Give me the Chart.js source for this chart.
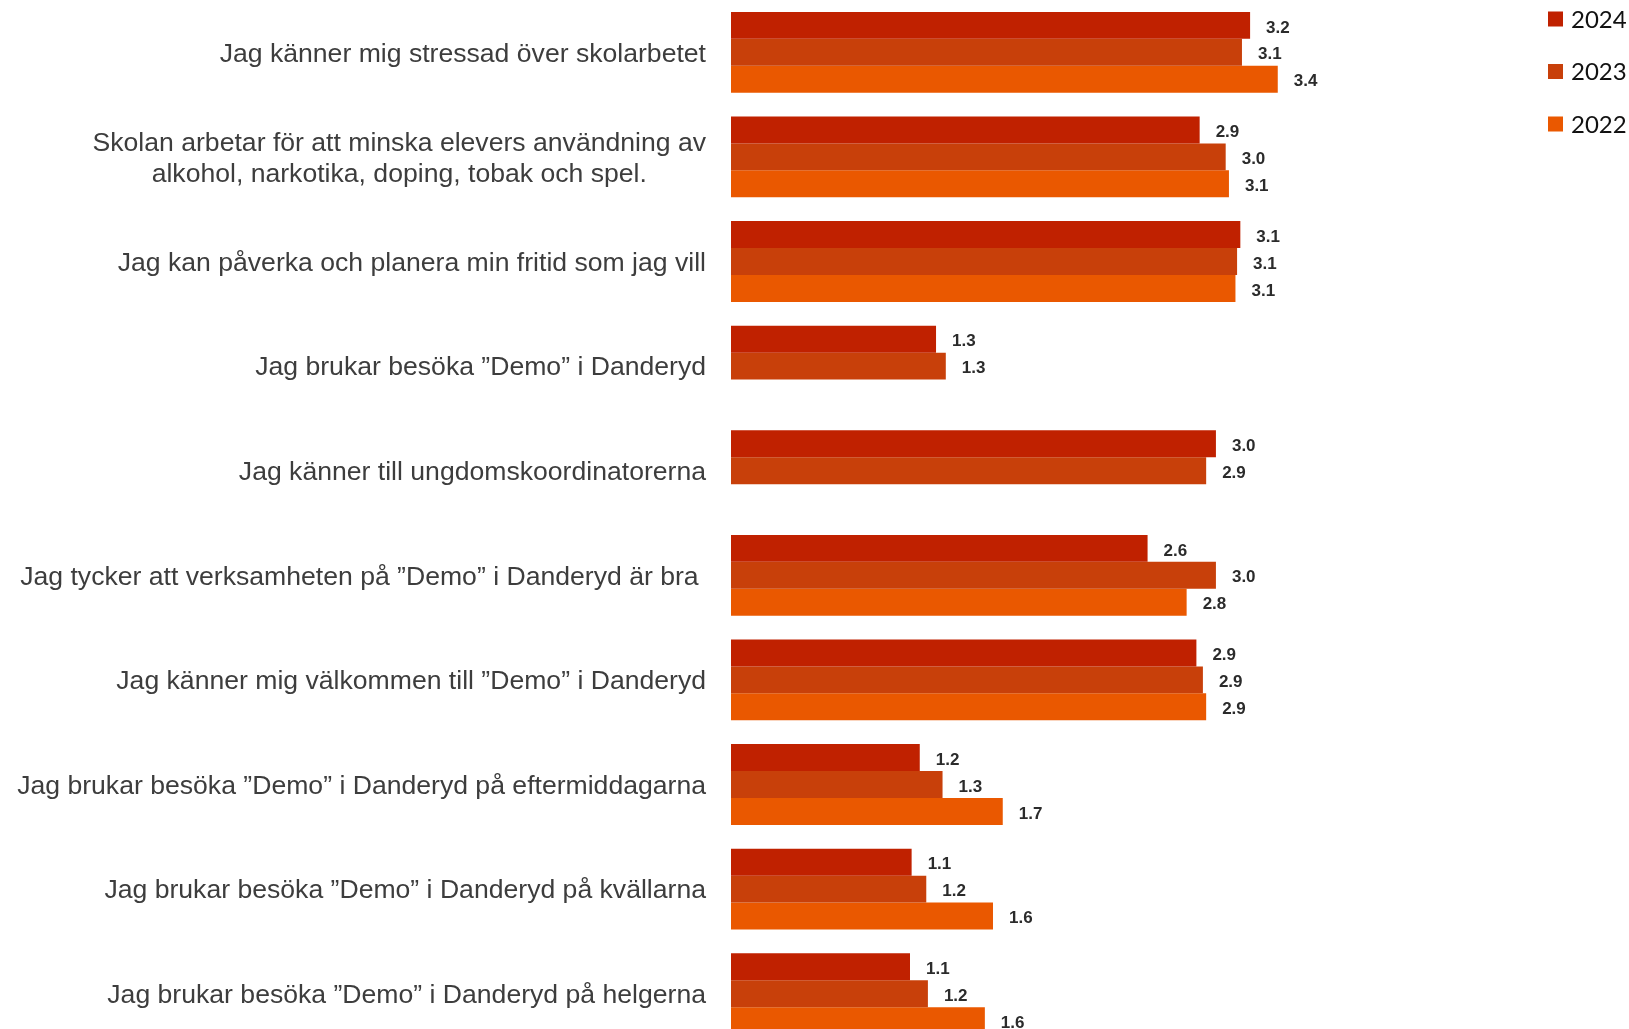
<!DOCTYPE html>
<html lang="sv">
<head>
<meta charset="utf-8">
<title>Demo Danderyd</title>
<script src="https://cdn.jsdelivr.net/npm/chart.js@4/dist/chart.umd.min.js"></script>
<style>
    html, body { margin: 0; padding: 0; background: #fff; overflow: hidden; }
    #wrap { position: relative; width: 1629px; height: 1046px; }
</style>
</head>
<body>
<div id="wrap"><canvas id="barChart"></canvas></div>
<script>
// ===== DATA =====
const categories = [
    'Jag känner mig stressad över skolarbetet',
    ['Skolan arbetar för att minska elevers användning av', 'alkohol, narkotika, doping, tobak och spel.'],
    'Jag kan påverka och planera min fritid som jag vill',
    'Jag brukar besöka ”Demo” i Danderyd',
    'Jag känner till ungdomskoordinatorerna',
    'Jag tycker att verksamheten på ”Demo” i Danderyd är bra ',
    'Jag känner mig välkommen till ”Demo” i Danderyd',
    'Jag brukar besöka ”Demo” i Danderyd på eftermiddagarna',
    'Jag brukar besöka ”Demo” i Danderyd på kvällarna',
    'Jag brukar besöka ”Demo” i Danderyd på helgerna'
];

const years = ['2024', '2023', '2022'];

const values2024 = [3.19, 2.88, 3.13, 1.26, 2.98, 2.56, 2.86, 1.16, 1.11, 1.10];
const values2023 = [3.14, 3.04, 3.11, 1.32, 2.92, 2.98, 2.90, 1.30, 1.20, 1.21];
const values2022 = [3.36, 3.06, 3.10, null, null, 2.80, 2.92, 1.67, 1.61, 1.56];

const colors = ['#C02100', '#C8400A', '#EA5800'];

// Etiketter till vänster om staplarna (radvis centrerade, blocket högerjusterat)
const categoryLabels = {
    id: 'categoryLabels',
    afterDraw(chart, args, opts) {
        const { ctx, chartArea } = chart;
        const yScale = chart.scales.y;
        const right = chartArea.left - opts.gap;
        ctx.save();
        ctx.font = opts.font;
        ctx.fillStyle = opts.color;
        ctx.textAlign = 'center';
        ctx.textBaseline = 'middle';
        chart.data.labels.forEach((label, i) => {
            const lines = Array.isArray(label) ? label : [label];
            const maxWidth = Math.max(...lines.map(l => ctx.measureText(l).width));
            const cx = right - maxWidth / 2;
            const cy = yScale.getPixelForValue(i) + opts.shift;
            lines.forEach((line, j) => {
                ctx.fillText(line, cx, cy + (j - (lines.length - 1) / 2) * opts.lineHeight);
            });
        });
        ctx.restore();
    }
};

// Värden vid stapelns slut
const valueLabels = {
    id: 'valueLabels',
    afterDatasetsDraw(chart, args, opts) {
        const { ctx } = chart;
        ctx.save();
        ctx.font = opts.font;
        ctx.fillStyle = opts.color;
        ctx.textAlign = 'left';
        ctx.textBaseline = 'middle';
        chart.data.datasets.forEach((ds, di) => {
            const meta = chart.getDatasetMeta(di);
            meta.data.forEach((bar, i) => {
                const v = ds.data[i];
                if (v === null || v === undefined) return;
                ctx.fillText(v.toFixed(1), bar.x + opts.offset, bar.y + opts.shift);
            });
        });
        ctx.restore();
    }
};

// Förklaring uppe till höger
const cornerLegend = {
    id: 'cornerLegend',
    afterDraw(chart, args, opts) {
        const { ctx } = chart;
        ctx.save();
        ctx.font = opts.font;
        ctx.textAlign = 'left';
        ctx.textBaseline = 'middle';
        chart.data.datasets.forEach((ds, i) => {
            const cy = opts.top + i * opts.step;
            ctx.fillStyle = ds.backgroundColor;
            ctx.fillRect(opts.x, cy - opts.box / 2, opts.box, opts.box);
            ctx.fillStyle = opts.color;
            ctx.fillText(ds.label, opts.x + opts.box + 8, cy + 1);
        });
        ctx.restore();
    }
};

const ctx = document.getElementById('barChart').getContext('2d');
const chart = new Chart(ctx, {
    type: 'bar',
    data: {
        labels: categories,
        datasets: [values2024, values2023, values2022].map((data, i) => ({
            label: years[i],
            data: data,
            backgroundColor: colors[i],
            borderWidth: 0,
            barPercentage: 1.0,
            categoryPercentage: 0.772
        }))
    },
    options: {
        indexAxis: 'y',
        responsive: true,
        maintainAspectRatio: false,
        animation: false,
        layout: {
            padding: { left: 731, right: 3, top: 0, bottom: 0 }
        },
        scales: {
            x: {
                display: false,
                min: 0,
                max: 5.5
            },
            y: {
                display: false
            }
        },
        plugins: {
            legend: { display: false },
            tooltip: { enabled: false },
            categoryLabels: {
                font: '26.6px "Liberation Sans", Arial, sans-serif',
                color: '#3d3d3d',
                gap: 25,
                lineHeight: 31,
                shift: 2
            },
            valueLabels: {
                font: 'bold 17px "Liberation Sans", Arial, sans-serif',
                color: '#2b2b2b',
                offset: 16,
                shift: 2.5
            },
            cornerLegend: {
                font: '24px Lato, "Open Sans", sans-serif',
                color: '#111',
                x: 1548,
                top: 19,
                step: 52.5,
                box: 15
            }
        }
    },
    plugins: [categoryLabels, valueLabels, cornerLegend]
});
</script>
</body>
</html>
